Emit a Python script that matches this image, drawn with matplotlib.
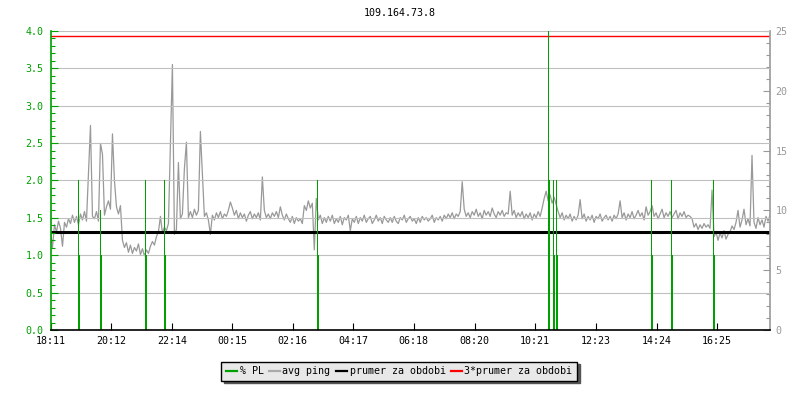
import numpy as np
import matplotlib
matplotlib.use('Agg')
import matplotlib.pyplot as plt
from matplotlib.ticker import MultipleLocator, FormatStrFormatter
from matplotlib.lines import Line2D

# avg ping [ms], one sample every 4 minutes, 18:11 -> 18:11 next day
ping = [
	8.3, 6.9, 8.8, 8.2, 9.1, 8.5, 7.0, 9.0, 8.6, 9.3,        # 18:11
	8.9, 9.6, 9.0, 9.5, 8.8, 9.7, 9.2, 9.9, 9.1, 13.2,
	17.1, 9.5, 9.3, 9.9, 9.1, 15.6, 14.7, 9.6, 10.3, 10.8,
	10.1, 16.4, 12.5, 10.3, 9.7, 10.4, 7.5, 6.9, 7.3, 6.5,
	7.1, 6.4, 6.9, 6.6, 7.2, 6.3, 6.8, 6.2, 6.7, 6.4,
	7.0, 7.4, 7.1, 7.8, 8.2, 9.5, 8.1, 8.6, 8.3, 8.9,
	15.4, 22.2, 8.0, 8.4, 14.0, 9.3, 9.7, 13.5, 15.7, 9.4,   # 22:14
	9.9, 9.4, 10.1, 9.6, 10.0, 16.6, 13.1, 9.5, 9.8, 9.2,
	8.0, 9.6, 9.2, 9.8, 9.4, 9.9, 9.3, 9.7, 9.5, 10.0,
	10.7, 10.2, 9.6, 10.0, 9.3, 9.8, 9.4, 9.7, 9.1, 9.6,
	9.9, 9.3, 9.7, 9.4, 9.8, 9.2, 12.8, 10.0, 9.4, 9.7,
	9.3, 9.8, 9.5, 9.9, 9.4, 10.3, 9.6, 9.2, 9.7, 9.3,
	9.0, 9.5, 8.9, 9.4, 9.1, 9.3, 8.9, 10.4, 10.0, 10.8,     # 02:16
	10.2, 10.6, 6.7, 11.0, 9.2, 9.6, 8.9, 9.4, 9.0, 9.5,
	9.1, 9.6, 8.9, 9.3, 9.0, 9.5, 8.8, 9.4, 9.2, 9.6,
	8.3, 9.3, 9.0, 9.5, 8.9, 9.4, 9.1, 9.6, 9.0, 9.3,
	9.5, 8.9, 9.2, 9.6, 9.1, 9.4, 8.9, 9.5, 9.2, 9.0,
	9.4, 9.0, 9.5, 9.1, 8.9, 9.4, 9.2, 9.6, 9.0, 9.3,
	9.5, 9.1, 9.3, 8.9, 9.4, 9.0, 9.5, 9.2, 9.4, 9.1,        # 06:18
	9.3, 9.6, 9.0, 9.4, 9.2, 9.5, 9.1, 9.6, 9.3, 9.7,
	9.4, 9.8, 9.3, 9.7, 9.5, 9.9, 12.4, 10.1, 9.5, 9.8,
	9.4, 9.9, 9.6, 10.1, 9.5, 9.8, 9.3, 10.0, 9.6, 9.9,
	9.5, 10.2, 9.7, 9.4, 9.9, 9.6, 10.0, 9.5, 9.8, 9.7,
	11.6, 9.6, 10.0, 9.4, 9.8, 9.5, 9.9, 9.3, 9.7, 9.4,
	9.8, 9.2, 9.7, 9.4, 9.9, 9.5, 10.2, 11.0, 11.6, 10.8,    # 10:21
	11.3, 10.6, 11.1, 10.5, 9.9, 9.4, 9.8, 9.2, 9.6, 9.3,
	9.7, 9.1, 9.5, 9.2, 9.6, 10.9, 9.3, 9.7, 9.1, 9.5,
	9.2, 9.6, 9.0, 9.5, 9.3, 9.7, 9.1, 9.4, 9.6, 9.2,
	9.5, 9.1, 9.6, 9.3, 9.7, 10.8, 9.4, 9.8, 9.2, 9.7,
	9.4, 9.9, 9.3, 9.6, 10.0, 9.5, 9.8, 9.2, 10.3, 9.6,
	9.9, 10.4, 9.5, 9.8, 9.3, 9.7, 10.1, 9.4, 9.8, 9.5,      # 14:24
	9.9, 9.4, 9.7, 10.0, 9.3, 9.8, 9.5, 9.9, 9.4, 9.6,
	9.5, 9.3, 8.6, 8.9, 8.4, 8.8, 8.5, 8.9, 8.6, 8.8,
	8.5, 11.7, 7.8, 8.2, 7.5, 8.1, 7.7, 8.3, 7.6, 8.0,
	8.2, 8.7, 8.4, 9.0, 10.0, 8.6, 9.2, 10.1, 8.8, 9.3,
	8.7, 14.6, 9.0, 8.5, 9.4, 8.8, 9.2, 8.6, 9.5, 9.1, 9.6,
]

# packet loss events: minute from start, peak %, height of the wide part
pl_minutes = [55, 100, 190, 228, 533, 995, 1005, 1011, 1201, 1241, 1325]
pl_peak = [2.0, 1.6, 2.0, 2.0, 2.0, 4.0, 2.0, 2.0, 2.0, 2.0, 2.0]
pl_wide = [1.0, 1.0, 1.0, 1.0, 1.0, 2.0, 1.0, 1.0, 1.0, 1.0, 1.0]

prumer = 8.2  # ms, average over the period

tick_minutes = [0, 121, 243, 364, 485, 606, 727, 849, 970, 1091, 1213, 1334]
tick_labels = ['18:11', '20:12', '22:14', '00:15', '02:16', '04:17',
			   '06:18', '08:20', '10:21', '12:23', '14:24', '16:25']

green = '#00a000'
gray = '#999999'

plt.rcParams['font.family'] = 'DejaVu Sans Mono'
plt.rcParams['font.size'] = 7.2

fig = plt.figure(figsize=(8, 4), dpi=100)
ax = fig.add_axes([50.5/800, 70/400, 719.5/800, 299/400])
ax2 = ax.twinx()
# left axis (loss) on top of the ping axis
ax.set_zorder(ax2.get_zorder() + 1)
ax.patch.set_visible(False)

xx = np.linspace(0, 1440, len(ping))
ax2.plot(xx, ping, color=gray, lw=0.9)
ax2.axhline(prumer, color='black', lw=2.2)
ax2.axhline(3*prumer, color='red', lw=1.0)

# 1 px wide up to the peak, 2 px wide up to the wide part (2 min = 1 px)
ax.bar(pl_minutes, pl_peak, width=2, align='edge', color=green, lw=0, antialiased=False)
ax.bar(pl_minutes, pl_wide, width=4, align='edge', color=green, lw=0, antialiased=False)

ax.set_xlim(0, 1440)
ax.set_ylim(0, 4)
ax2.set_ylim(0, 25)

ax.yaxis.set_major_locator(MultipleLocator(0.5))
ax.yaxis.set_minor_locator(MultipleLocator(0.1))
ax.yaxis.set_major_formatter(FormatStrFormatter('%.1f'))
ax.yaxis.grid(True, color='#c0c0c0', lw=0.8)
ax.set_axisbelow(True)
ax.tick_params(axis='y', which='both', direction='in', colors=green, width=0.8, pad=5)
ax.tick_params(axis='y', which='major', length=5)
ax.tick_params(axis='y', which='minor', length=3)

ax.set_xticks(tick_minutes)
ax.set_xticklabels(tick_labels)
ax.tick_params(axis='x', direction='in', length=5, width=0.8, pad=4)

ax2.yaxis.set_major_locator(MultipleLocator(5))
ax2.yaxis.set_minor_locator(MultipleLocator(1))
ax2.tick_params(axis='y', which='both', direction='in', colors=gray, width=0.8, pad=4)
ax2.tick_params(axis='y', which='major', length=5)
ax2.tick_params(axis='y', which='minor', length=3)

for s in ['top', 'right']:
	ax.spines[s].set_visible(False)
ax.spines['left'].set_color(green)
ax.spines['left'].set_linewidth(1.2)
ax.spines['bottom'].set_linewidth(1.2)
for s in ['top', 'left', 'bottom']:
	ax2.spines[s].set_visible(False)
ax2.spines['right'].set_color(gray)
ax2.spines['right'].set_linewidth(1.2)

fig.text(0.5, 1 - 13/400, '109.164.73.8', ha='center', va='center')

handles = [Line2D([], [], color=green, lw=1.6),
		   Line2D([], [], color='#aaaaaa', lw=1.6),
		   Line2D([], [], color='black', lw=1.6),
		   Line2D([], [], color='red', lw=1.6)]
labels = ['% PL', 'avg ping', 'prumer za obdobi', '3*prumer za obdobi']
leg = fig.legend(handles, labels, loc='center', bbox_to_anchor=(399/800, 1 - 371/400),
				 ncol=4, fancybox=False, shadow={'color': '#555555', 'alpha': 1},
				 facecolor='#e8e8e8', edgecolor='black', framealpha=1,
				 handlelength=1.1, handletextpad=0.3, columnspacing=0.5, borderpad=0.45)
leg.get_frame().set_linewidth(1.0)

fig.savefig('out.png', dpi=100)
